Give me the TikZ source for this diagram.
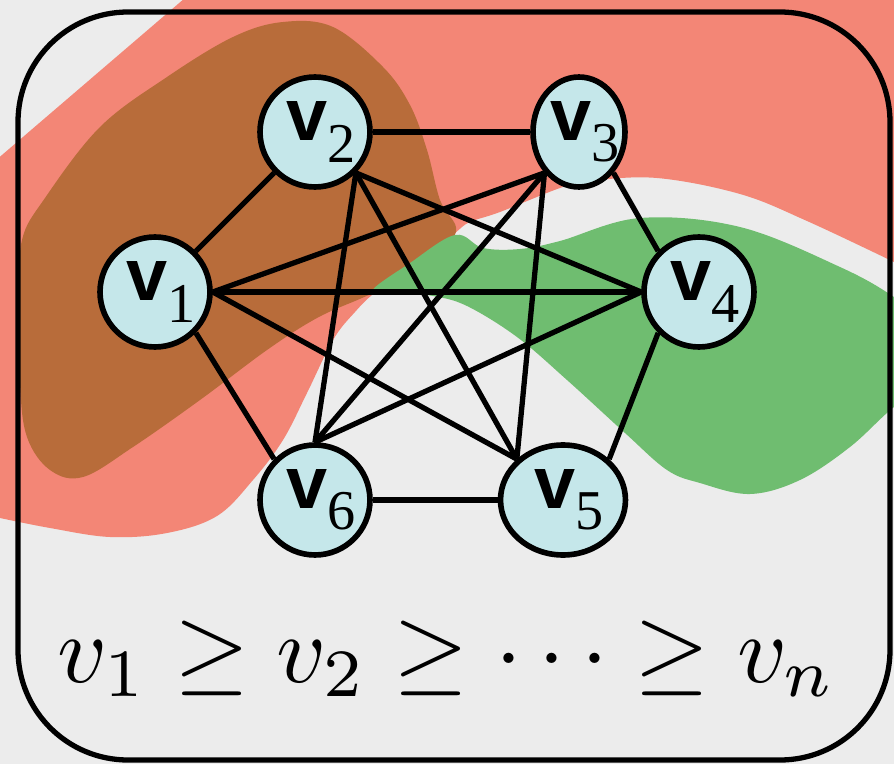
\documentclass[tikz,border=0pt]{standalone}
\usepackage{graphicx}
\usepackage{fontspec}
\usetikzlibrary{shapes.geometric}
\newfontfamily\vsans{Liberation Sans}
\newfontfamily\vserif{Liberation Serif}
\definecolor{bggray}{RGB}{236,236,236}
\definecolor{blobred}{RGB}{243,134,118}
\definecolor{blobbrown}{RGB}{184,108,58}
\definecolor{blobgreen}{RGB}{111,189,112}
\definecolor{vertfill}{RGB}{197,231,234}
\newcommand{\vlab}[1]{\makebox[0pt]{\hspace{7pt}{\fontsize{42}{42}\selectfont\vsans\bfseries v}\raisebox{-12pt}{\fontsize{32}{32}\selectfont\vserif #1}}}

\begin{document}
\begin{tikzpicture}[x=0.02cm, y=-0.02cm,
    vert/.style={ellipse, draw=black, line width=3.2pt, fill=vertfill, inner sep=0pt, minimum width=2.2cm, minimum height=2.2cm},
    edge/.style={draw=black, line width=3pt},
    frame/.style={draw=black, line width=3pt, rounded corners=2.2cm}
]
\useasboundingbox (0,0) rectangle (894,764);

% 背景と領域
\begin{scope}
\clip (0,0) rectangle (894,764);
\fill[bggray] (0,0) rectangle (894,764);
\fill[blobred] (-40,191) -- (220,-32) -- (950,-40) -- (950,287)
  -- plot[smooth, tension=0.6] coordinates {(894,262) (807,221) (740,194) (657,178) (590,181) (560,188) (500,212) (470,222) (455,233) (420,262) (377,291) (355,312) (333,340) (307,393) (283,440) (253,480) (217,516) (167,533) (110,537) (50,528) (0,518)}
  -- (-40,512) -- cycle;
\fill[blobbrown] plot[smooth cycle, tension=0.6] coordinates {(20,300) (22,240) (45,198) (100,127) (167,77) (233,37) (283,22) (333,27) (383,67) (410,105) (427,150) (440,200) (456,232) (425,262) (390,285) (362,298) (317,318) (267,350) (200,400) (133,447) (83,477) (50,470) (27,437) (20,383)};
\fill[blobgreen] plot[smooth cycle, tension=0.6] coordinates {(372,291) (410,263) (455,235) (483,248) (520,249) (560,241) (640,218) (740,227) (840,267) (894,297) (935,330) (935,380) (894,407) (850,447) (800,480) (750,494) (700,483) (667,470) (625,433) (567,380) (517,337) (467,306) (433,296) (400,293)};
\end{scope}

% 頂点
\node[vert] (v1) at (155,292) {\vlab{1}};
\node[vert] (v2) at (315,132) {\vlab{2}};
\node[vert, minimum width=1.84cm] (v3) at (579,132) {\vlab{3}};
\node[vert] (v4) at (699,292) {\vlab{4}};
\node[vert, minimum width=2.5cm] (v5) at (563,500) {\vlab{5}};
\node[vert] (v6) at (315,500) {\vlab{6}};

% 辺
\draw[edge] (v1.north east) -- (v2.south west);
\draw[edge] (v1.east) -- (v3.south west);
\draw[edge] (v1.east) -- (v4.west);
\draw[edge] (v1.east) -- (v5.north west);
\draw[edge] (v1.south east) -- (v6.north west);
\draw[edge] (v2.east) -- (v3.west);
\draw[edge] (v2.south east) -- (v4.west);
\draw[edge] (v2.south east) -- (v5.north west);
\draw[edge] (v2.south east) -- (v6.north);
\draw[edge] (v3.south east) -- (v4.north west);
\draw[edge] (v3.south west) -- (v5.north west);
\draw[edge] (v3.south west) -- (v6.north);
\draw[edge] (v4.south west) -- (v5.north east);
\draw[edge] (v4.west) -- (v6.north);
\draw[edge] (v6.east) -- (v5.west);

% 順序
\node[anchor=base] (order) at (447,682) {\scalebox{5.5}{$v_1 \geq v_2 \geq \cdots \geq v_n$}};

% 枠
\draw[frame] (18,12) rectangle (890,760);

\end{tikzpicture}
\end{document}
